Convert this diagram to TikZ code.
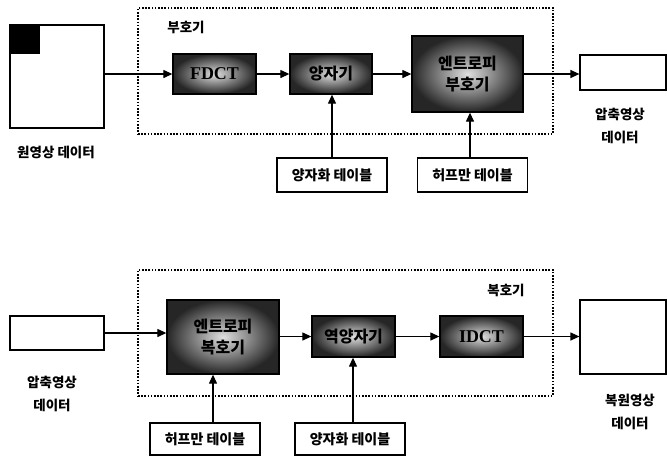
\documentclass[tikz,border=0pt]{standalone}
\usepackage{fontspec}
\setmainfont{Noto Sans CJK KR}
\newfontfamily\latinbold{Liberation Serif}
\usetikzlibrary{arrows.meta,calc}
\tikzset{
  arr/.style={-{Triangle[length=9pt,width=8pt]},line width=1.2pt},
  plainbox/.style={draw,line width=1.2pt,fill=white,inner sep=0pt},
  darkbox/.style={draw=black,line width=1.3pt,inner sep=0pt,shading=radial,inner color=gray!25,outer color=black!85,font=\fontsize{16}{21}\selectfont\bfseries,text=black,align=center},
  tabbox/.style={draw,line width=1.2pt,inner sep=0pt,minimum width=110pt,minimum height=34pt,font=\fontsize{14}{16}\selectfont\bfseries},
  dotbox/.style={draw,line width=1.6pt,dash pattern=on 1.6pt off 1.6pt,inner sep=0pt},
  lbl/.style={font=\fontsize{13.5}{23}\selectfont\bfseries,align=center,inner sep=0pt},
}
\begin{document}
\begin{tikzpicture}[x=1pt,y=-1pt]
\useasboundingbox (0,0) rectangle (667,456);
% ---------- encoder ----------
\node[dotbox,minimum width=415pt,minimum height=126pt] (encbox) at (345.5,71) {};
\node[lbl] (enclbl) at (186,27) {부호기};
\node[plainbox,minimum width=94pt,minimum height=103pt] (src) at (57,76.5) {};
\fill (10,25) rectangle (40,54);
\node[lbl] (srclbl) at (56,152) {원영상 데이터};
\node[darkbox,minimum width=83pt,minimum height=40pt] (fdct) at (214.5,74) {\fontsize{18}{20}\selectfont\latinbold FDCT};
\node[darkbox,minimum width=82pt,minimum height=40pt] (quant) at (331,74) {양자기};
\node[darkbox,minimum width=111pt,minimum height=76pt] (ent) at (467.5,74) {엔트로피\\부호기};
\node[plainbox,minimum width=86pt,minimum height=35pt] (out) at (623,72.5) {};
\node[lbl] (outlbl) at (620,126) {압축영상\\데이터};
\node[tabbox] (qtab) at (332,175) {양자화 테이블};
\node[tabbox] (htab) at (472.5,175) {허프만 테이블};
\draw[arr] (src.east |- fdct.west) -- (fdct.west);
\draw[arr] (fdct) -- (quant);
\draw[arr] (quant) -- (ent.west |- quant.east);
\draw[arr] (ent.east) -- (ent.east -| out.west);
\draw[arr] (qtab.north) -- (qtab.north |- quant.south);
\draw[arr] ([xshift=-2.5pt]htab.north) -- ([xshift=-2.5pt]htab.north |- ent.south);
% ---------- decoder ----------
\node[dotbox,minimum width=415pt,minimum height=126pt] (decbox) at (345.5,333) {};
\node[lbl] (declbl) at (506,290) {복호기};
\node[plainbox,minimum width=94pt,minimum height=34pt] (in) at (57,333) {};
\node[lbl] (inlbl) at (52,394) {압축영상\\데이터};
\node[darkbox,minimum width=112pt,minimum height=74pt] (edec) at (223,337) {엔트로피\\복호기};
\node[darkbox,minimum width=83pt,minimum height=41pt] (iq) at (353.5,336.5) {역양자기};
\node[darkbox,minimum width=83pt,minimum height=41pt] (idct) at (481.5,336.5) {\fontsize{18}{20}\selectfont\latinbold IDCT};
\node[plainbox,minimum width=86pt,minimum height=74pt] (rec) at (623,337) {};
\node[lbl] (reclbl) at (630,412) {복원영상\\데이터};
\node[tabbox,minimum height=32pt] (htab2) at (205,439) {허프만 테이블};
\node[tabbox,minimum height=32pt] (qtab2) at (350,439) {양자화 테이블};
\draw[arr] (in.east) -- (in.east -| edec.west);
\draw[arr] (edec.east |- iq.west) -- (iq.west);
\draw[arr] (iq) -- (idct);
\draw[arr] (idct.east) -- (idct.east -| rec.west);
\draw[arr] ([xshift=8pt]htab2.north) -- ([xshift=8pt]htab2.north |- edec.south);
\draw[arr] ([xshift=3pt]qtab2.north) -- ([xshift=3pt]qtab2.north |- iq.south);
\end{tikzpicture}
\end{document}
